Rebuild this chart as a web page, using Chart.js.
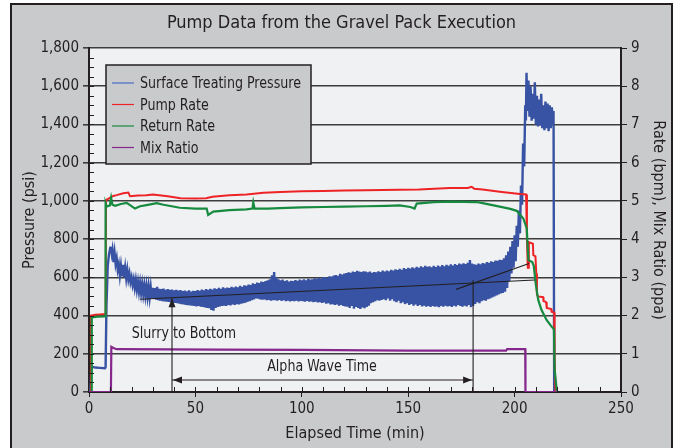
<!DOCTYPE html>
<html>
<head>
<meta charset="utf-8">
<script src="https://cdn.jsdelivr.net/npm/chart.js@4.4.1/dist/chart.umd.min.js"></script>
<style>
  html, body { margin: 0; padding: 0; background: #fff; }
  #wrap { position: relative; width: 683px; height: 448px; overflow: hidden; }
  #frame { position: absolute; left: 10px; top: 3px; width: 659px; height: 470px; background: #c9cacc; border: 2px solid #231f20; }
  canvas { position: absolute; left: 0; top: 0; }
</style>
</head>
<body>
<div id="wrap"><div id="frame"></div><canvas id="pumpChart" width="683" height="448"></canvas></div>
<script>
/**
 * Pump data from the gravel pack execution
 */

// 1. DATA (elapsed time in min)
// surface treating pressure (psi) - start-up section as [min, psi]
const stpStartup = [[0,0],[0.6,5],[1.1,125],[1.6,132],[3,128],[5,126],[7.5,124],[7.8,130],[8.2,450],[8.8,660],[9.4,720],[10,755],[10.3,760],[10.7,725]];

// per-minute high / low of the noisy pressure trace, 11 .. 204 min
const stpHigh = [
  745,730,700,668,660,665,650,640,620,600,
  590,585,575,570,565,558,555,552,548,545,
  544,550,540,538,541,535,538,534,536,532,
  535,530,533,528,530,527,532,526,530,528,
  533,530,536,532,538,535,540,536,542,538,
  545,540,548,542,546,544,550,547,552,548,
  555,550,558,555,562,560,568,565,572,570,
  578,575,580,585,590,610,628,600,590,585,
  588,580,585,578,582,580,586,582,588,584,
  590,585,592,588,590,595,592,598,594,600,
  602,598,606,604,610,612,608,618,614,620,
  622,626,624,630,628,634,630,628,632,630,
  626,630,624,628,626,632,628,635,630,636,
  632,640,636,642,638,645,640,648,644,650,
  646,652,648,655,650,658,652,660,655,658,
  652,660,654,662,656,664,658,666,660,668,
  662,670,665,672,668,674,670,676,690,672,
  668,666,672,668,675,672,680,676,684,680,
  688,686,692,690,700,715,735,760,790,820,
  870,950,1080,1300
];
const stpLow = [
  680,670,640,610,605,600,595,590,575,560,
  545,535,525,518,512,505,500,495,490,487,
  483,480,478,476,474,473,472,470,468,466,
  465,462,460,458,456,455,453,452,450,448,
  450,446,445,443,440,438,430,425,440,445,
  448,450,452,450,455,453,458,455,460,458,
  462,465,468,472,475,480,485,490,488,485,
  483,485,480,482,478,480,481,478,482,476,
  480,475,478,474,477,475,478,474,476,475,
  473,476,472,474,470,473,468,470,466,468,
  462,464,458,460,455,458,452,455,450,448,
  446,440,450,436,445,440,435,442,438,445,
  452,465,470,475,480,478,482,485,480,490,
  478,485,475,470,478,465,470,460,465,455,
  460,452,458,450,455,448,452,446,450,445,
  450,446,448,444,450,446,452,448,450,445,
  452,448,455,450,446,452,448,455,444,450,
  460,470,465,475,480,478,485,490,495,500,
  505,510,515,518,525,545,580,620,650,685,
  760,830,980,1180
];
const stpFirstMinute = 11;

// screen-out at the end of the job as [min, psi]
const stpScreenout = [[205,1500],[205.3,1420],[205.6,1671],[206,1470],[206.5,1630],[207,1440],[207.5,1600],[208,1420],[208.5,1560],[209,1430],[209.5,1620],[210,1400],[210.5,1550],[211,1390],[211.5,1530],[212,1395],[212.5,1560],[213,1380],[213.5,1500],[214,1370],[214.5,1520],[215,1380],[215.5,1510],[216,1365],[216.5,1500],[217,1380],[217.5,1490],[218,1400],[218.3,1470],[218.6,0]];

// pump rate (bpm)
const pumpRate = [[0,0],[0.8,0],[0.9,2.0],[3,2.02],[5,2.03],[7.5,2.04],[7.8,2.05],[8,5.02],[9.8,5.08],[11.4,5.13],[13,5.15],[16.1,5.2],[18.5,5.22],[19.3,5.12],[23,5.14],[27,5.15],[30,5.17],[33,5.15],[37,5.12],[43,5.07],[50,5.06],[55,5.07],[58,5.11],[66,5.15],[74,5.17],[82,5.21],[90,5.23],[100,5.25],[110,5.26],[120,5.27],[130,5.28],[146,5.29],[155,5.3],[169.6,5.34],[178,5.34],[179.8,5.37],[181,5.32],[185,5.3],[193,5.24],[202.5,5.18],[205.4,5.17],[205.8,4.0],[206.2,3.25],[206.5,3.25],[206.7,3.92],[208.6,3.88],[208.8,3.58],[209.8,3.55],[210.2,3.1],[210.5,2.55],[211,2.5],[213.4,2.48],[213.6,2.38],[214.8,2.35],[215.1,2.2],[217.2,2.17],[217.4,2.1],[218.6,2.08],[218.8,0.9],[219.2,0]];

// return rate (bpm)
const returnRate = [[0,0],[1.2,0],[1.3,1.95],[4,1.97],[7.6,1.98],[7.8,4.94],[8.3,4.85],[9.8,4.88],[10.4,5.08],[11,4.9],[12.3,4.87],[15,4.92],[17.7,4.95],[19.3,4.89],[21.6,4.8],[24,4.86],[27,4.89],[31.8,4.94],[35,4.9],[42.7,4.82],[50,4.8],[55.3,4.8],[56,4.63],[58.4,4.72],[66,4.76],[74,4.78],[76.8,4.8],[77.2,4.96],[77.8,4.8],[84,4.8],[89.7,4.81],[100,4.83],[110,4.84],[120,4.85],[130,4.86],[140,4.87],[146,4.88],[151,4.84],[153,4.8],[154,4.93],[162,4.97],[170,4.98],[182,4.97],[185,4.94],[193,4.85],[198,4.79],[201,4.74],[204.1,4.54],[205.7,4.28],[206.5,3.45],[208.3,3.4],[209,3.3],[210,2.8],[211.1,2.41],[212.6,2.15],[215.1,1.88],[217.4,1.71],[218.5,1.64],[218.8,0.6],[219.7,0.1],[220,0]];

// mix ratio (ppa)
const mixRatio = [[0,0],[10.3,0],[10.5,1.18],[11.5,1.15],[13,1.12],[60,1.11],[100,1.1],[150,1.08],[196,1.08],[196.5,1.12],[205,1.12],[205.1,0],[219.8,0]];

// annotations, [min, psi]
const trendLow = [[24,485],[209.5,586]];
const trendHigh = [[172.5,537],[206.8,672]];
const slurryLine = [[39,0],[39,490]];
const alphaLine = [[180.5,0],[180.5,585]];
const alphaSpan = [[39,63],[180.5,63]];
const noteLabels = [['Slurry to Bottom', 44.6, 303], ['Alpha Wave Time', 109.5, 131]];

// axis ticks
const pressureTicks = [0,200,400,600,800,1000,1200,1400,1600,1800];
const rateTicks = [0,1,2,3,4,5,6,7,8,9];
const timeTicks = [0,50,100,150,200,250];

const seriesNames = ['Surface Treating Pressure', 'Pump Rate', 'Return Rate', 'Mix Ratio'];

// 2. HELPERS
const xy = arr => arr.map(p => ({ x: p[0], y: p[1] }));

function buildPressure() {
  const pts = xy(stpStartup);
  stpHigh.forEach((hi, i) => {
    pts.push({ x: stpFirstMinute + i, y: hi });
    pts.push({ x: stpFirstMinute + i + 0.5, y: stpLow[i] });
  });
  return pts.concat(xy(stpScreenout));
}

const INK = '#231f20';
const FONT = "'DejaVu Sans Condensed', 'Liberation Sans Narrow', sans-serif";
const SQUEEZE = 0.88; // condensed look for hand-drawn labels

function arrowHead(ctx, x, y, dx, dy) {
  const len = 9, half = 3.5;
  ctx.beginPath();
  ctx.moveTo(x, y);
  ctx.lineTo(x - dx * len - dy * half, y - dy * len + dx * half);
  ctx.lineTo(x - dx * len + dy * half, y - dy * len - dx * half);
  ctx.closePath();
  ctx.fill();
}

function narrowText(ctx, txt, x, y) {
  ctx.save();
  ctx.translate(x, y);
  ctx.scale(SQUEEZE, 1);
  ctx.fillText(txt, 0, 0);
  ctx.restore();
}

// 3. PLUGIN: plot background, minor ticks, arrows, notes, legend box
const decor = {
  id: 'decor',
  beforeDraw(chart) {
    const { ctx, chartArea: a } = chart;
    ctx.save();
    ctx.fillStyle = '#f0f1f3';
    ctx.fillRect(a.left, a.top, a.right - a.left, a.bottom - a.top);
    ctx.restore();
  },
  afterDraw(chart) {
    const { ctx, chartArea: a } = chart;
    const sx = chart.scales.x, sy = chart.scales.y;
    ctx.save();
    ctx.strokeStyle = INK;
    ctx.fillStyle = INK;
    ctx.lineWidth = 1;

    // minor ticks (inside)
    ctx.beginPath();
    for (let v = 50; v < 1800; v += 50) {
      const py = Math.round(sy.getPixelForValue(v)) + 0.5;
      ctx.moveTo(a.left, py); ctx.lineTo(a.left + 5, py);
    }
    for (let t = 10; t < 250; t += 10) {
      const px = Math.round(sx.getPixelForValue(t)) + 0.5;
      ctx.moveTo(px, a.bottom); ctx.lineTo(px, a.bottom - 5);
    }
    ctx.stroke();

    // arrow heads
    const top = slurryLine[1];
    arrowHead(ctx, sx.getPixelForValue(top[0]), sy.getPixelForValue(top[1]), 0, -1);
    arrowHead(ctx, sx.getPixelForValue(alphaSpan[0][0]) + 1, sy.getPixelForValue(alphaSpan[0][1]), -1, 0);
    arrowHead(ctx, sx.getPixelForValue(alphaSpan[1][0]) - 1, sy.getPixelForValue(alphaSpan[1][1]), 1, 0);

    // notes
    ctx.font = '16px ' + FONT;
    ctx.textAlign = 'center';
    ctx.textBaseline = 'middle';
    noteLabels.forEach(([txt, t, p]) => {
      narrowText(ctx, txt, sx.getPixelForValue(t), sy.getPixelForValue(p));
    });

    // legend box
    const bx = 106, by = 65, bw = 205, bh = 99;
    ctx.fillStyle = '#c9cacc';
    ctx.fillRect(bx, by, bw, bh);
    ctx.lineWidth = 1.5;
    ctx.strokeRect(bx, by, bw, bh);
    ctx.textAlign = 'left';
    chart.data.datasets.forEach((ds, i) => {
      if (!ds.inLegend) return;
      const ry = by + 18 + i * 21.5;
      ctx.strokeStyle = ds.legendColor || ds.borderColor;
      ctx.lineWidth = 1.2;
      ctx.beginPath();
      ctx.moveTo(bx + 6, ry); ctx.lineTo(bx + 28, ry);
      ctx.stroke();
      ctx.fillStyle = INK;
      narrowText(ctx, ds.label, bx + 34, ry + 1);
    });
    ctx.restore();
  }
};

// 4. CHART
function loadPumpChart() {
  const ctx = document.getElementById('pumpChart').getContext('2d');
  const annot = (label, pts) => ({
    label, data: xy(pts), yAxisID: 'y', borderColor: INK, borderWidth: 1.1,
    pointRadius: 0, order: 0
  });
  const tickFont = { family: FONT, size: 15 };
  const titleFont = { family: FONT, size: 16 };

  new Chart(ctx, {
    type: 'line',
    data: {
      datasets: [
        { label: seriesNames[0], data: buildPressure(), yAxisID: 'y', borderColor: '#3853a3', legendColor: '#4a6bc8', borderWidth: 2.4, pointRadius: 0, inLegend: true, order: 4 },
        { label: seriesNames[1], data: xy(pumpRate), yAxisID: 'y1', borderColor: '#ee2326', borderWidth: 2, pointRadius: 0, inLegend: true, order: 3 },
        { label: seriesNames[2], data: xy(returnRate), yAxisID: 'y1', borderColor: '#168a3e', borderWidth: 2.2, pointRadius: 0, inLegend: true, order: 2 },
        { label: seriesNames[3], data: xy(mixRatio), yAxisID: 'y1', borderColor: '#86278b', borderWidth: 2.2, pointRadius: 0, inLegend: true, order: 1 },
        annot('trend 1', trendLow),
        annot('trend 2', trendHigh),
        annot('slurry', slurryLine),
        annot('alpha', alphaLine),
        annot('span', alphaSpan)
      ]
    },
    options: {
      responsive: false,
      animation: false,
      events: [],
      layout: { padding: 0 },
      plugins: {
        legend: { display: false },
        tooltip: { enabled: false },
        title: {
          display: true,
          text: 'Pump Data from the Gravel Pack Execution',
          color: INK,
          font: { family: FONT, size: 18, weight: 'normal' },
          padding: { top: 13, bottom: 13.4 }
        }
      },
      scales: {
        x: {
          type: 'linear', min: 0, max: 250,
          afterBuildTicks: s => { s.ticks = timeTicks.map(v => ({ value: v })); },
          ticks: { color: INK, font: tickFont, padding: 3 },
          grid: { drawOnChartArea: false, color: INK, tickLength: 5, lineWidth: 1 },
          border: { color: INK, width: 2 },
          title: { display: true, text: 'Elapsed Time (min)', color: INK, font: titleFont, padding: { top: 0, bottom: 5 } },
          afterFit: s => { s.height = 56; }
        },
        y: {
          position: 'left', min: 0, max: 1800,
          afterBuildTicks: s => { s.ticks = pressureTicks.map(v => ({ value: v })); },
          ticks: { color: INK, font: tickFont, padding: 4, callback: v => v.toLocaleString('en-US') },
          grid: { color: '#3d3d3d', lineWidth: 1.6, tickLength: 6 },
          border: { color: INK, width: 2 },
          title: { display: true, text: 'Pressure (psi)', color: INK, font: titleFont, padding: { top: 20, bottom: 0 } },
          afterFit: s => { s.width = 89; }
        },
        y1: {
          position: 'right', min: 0, max: 9,
          afterBuildTicks: s => { s.ticks = rateTicks.map(v => ({ value: v })); },
          ticks: { color: INK, font: tickFont, padding: 4 },
          grid: { drawOnChartArea: false, color: INK, tickLength: 6, lineWidth: 1 },
          border: { color: INK, width: 2 },
          title: { display: true, text: 'Rate (bpm), Mix Ratio (ppa)', color: INK, font: titleFont, padding: { top: 15, bottom: 0 } },
          afterFit: s => { s.width = 62; }
        }
      }
    },
    plugins: [decor]
  });
}

loadPumpChart();
</script>
</body>
</html>
